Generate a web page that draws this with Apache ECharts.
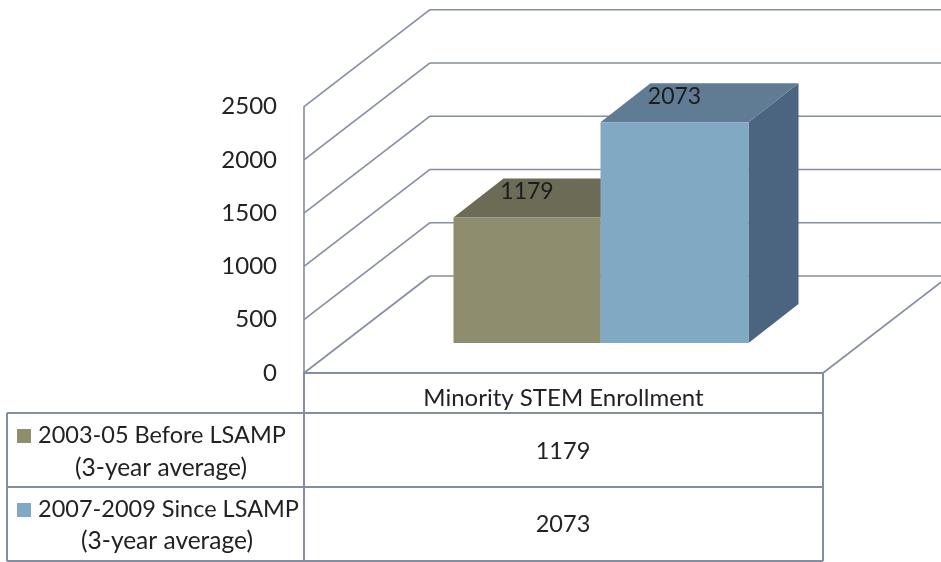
<!DOCTYPE html>
<html>
<head>
<meta charset="utf-8">
<style>
  html, body { margin: 0; padding: 0; background: #fff; }
  #chart { width: 941px; height: 562px; }
</style>
</head>
<body>
<div id="chart"></div>
<script src="https://cdn.jsdelivr.net/npm/echarts@6/dist/echarts.min.js"></script>
<script>
const categories = ['Minority STEM Enrollment']
const seriesNames = ['2003-05 Before LSAMP', '2007-2009 Since LSAMP']
const seriesNotes = ['(3-year average)', '(3-year average)']
const beforeValues = [1179]
const sinceValues = [2073]
const yTicks = [0, 500, 1000, 1500, 2000, 2500]

const FONT = 'Lato'
const LINE = '#858da1'
const TEXT = '#222'

// depth of the fake 3d box
const WALL_DX = 126
const WALL_DY = -97
const BAR_OFF_DY = -30
const BAR_DX = 50
const BAR_DY = -39

function poly(points, fill) {
  return { type: 'polygon', shape: { points }, style: { fill, stroke: null } }
}

function line(x1, y1, x2, y2, width) {
  return {
    type: 'line',
    shape: { x1, y1, x2, y2 },
    style: { stroke: LINE, lineWidth: width || 1.6 }
  }
}

// walls: one line around the box per y tick
function renderWall(params, api) {
  const p = api.coord([0, api.value(1)])
  const band = api.size([1, 0])[0]
  const left = p[0] - band / 2
  const backX = left + WALL_DX
  const backY = p[1] + WALL_DY
  const children = [
    line(left, p[1], backX, backY),
    line(backX, backY, 941, backY)
  ]
  if (api.value(1) === 0) {
    children.push(line(left + band, p[1], left + band + 118, p[1] + 118 * WALL_DY / WALL_DX))
  }
  return { type: 'group', children }
}

function barRenderer(startInBand, width, front, top, side) {
  return function(params, api) {
    const p = api.coord([api.value(0), api.value(1)])
    const base = api.coord([api.value(0), 0])
    const band = api.size([1, 0])[0]
    const x1 = p[0] - band / 2 + startInBand
    const x2 = x1 + width
    const y1 = p[1] + BAR_OFF_DY
    const y2 = base[1] + BAR_OFF_DY
    return {
      type: 'group',
      children: [
        poly([[x2, y1], [x2 + BAR_DX, y1 + BAR_DY], [x2 + BAR_DX, y2 + BAR_DY], [x2, y2]], side),
        poly([[x1, y1], [x2, y1], [x2 + BAR_DX, y1 + BAR_DY], [x1 + BAR_DX, y1 + BAR_DY]], top),
        poly([[x1, y1], [x2, y1], [x2, y2], [x1, y2]], front),
        {
          type: 'text',
          style: {
            text: String(api.value(1)),
            x: (x1 + x2) / 2,
            y: y1 - 26,
            align: 'center',
            verticalAlign: 'middle',
            fill: '#1c1c1c',
            font: '23px ' + FONT
          }
        }
      ]
    }
  }
}

function tableText(text, x, y, align, size) {
  return {
    type: 'text',
    style: {
      text, x, y,
      textAlign: align || 'center',
      textVerticalAlign: 'middle',
      fill: TEXT,
      font: (size || 23.5) + 'px ' + FONT
    }
  }
}

function tableLine(x1, y1, x2, y2) {
  return { type: 'line', shape: { x1, y1, x2, y2 }, style: { stroke: LINE, lineWidth: 2 } }
}

function swatch(x, y, fill) {
  return { type: 'rect', shape: { x, y, width: 14, height: 14 }, style: { fill } }
}

const COLOR_BEFORE = '#8e8d6d'
const COLOR_SINCE = '#82a9c4'

const chart = echarts.init(document.getElementById('chart'))
chart.setOption({
  animation: false,
  backgroundColor: '#fff',
  textStyle: { fontFamily: FONT },
  grid: { left: 304, right: 118, top: 106.7, height: 266.3 },
  xAxis: {
    type: 'category',
    data: categories,
    axisTick: { show: false },
    axisLine: { lineStyle: { color: LINE, width: 2 } },
    axisLabel: { color: TEXT, fontSize: 24, fontFamily: FONT, margin: 13 }
  },
  yAxis: {
    type: 'value',
    min: 0,
    max: 2500,
    interval: 500,
    axisLine: { show: true, lineStyle: { color: LINE, width: 1.6 } },
    axisTick: { show: false },
    splitLine: { show: false },
    axisLabel: {
      color: TEXT,
      fontSize: 24,
      fontFamily: FONT,
      margin: 27,
      padding: [3, 0, 0, 0],
      formatter: v => String(v)
    }
  },
  series: [
    {
      type: 'custom',
      name: 'walls',
      silent: true,
      clip: false,
      renderItem: renderWall,
      data: yTicks.map(v => [0, v]),
      z: 1
    },
    {
      type: 'custom',
      name: seriesNames[0],
      silent: true,
      clip: false,
      renderItem: barRenderer(149.5, 147, COLOR_BEFORE, '#6b6b56', '#6b6b56'),
      data: beforeValues.map((v, i) => [i, v]),
      z: 2
    },
    {
      type: 'custom',
      name: seriesNames[1],
      silent: true,
      clip: false,
      renderItem: barRenderer(296.5, 148, COLOR_SINCE, '#607b94', '#4b6581'),
      data: sinceValues.map((v, i) => [i, v]),
      z: 3
    }
  ],
  graphic: [
    tableLine(304, 373, 304, 561),
    tableLine(823, 373, 823, 561),
    tableLine(7, 413, 823, 413),
    tableLine(7, 487, 823, 487),
    tableLine(7, 561, 823, 561),
    tableLine(7, 413, 7, 561),
    swatch(17, 429, COLOR_BEFORE),
    swatch(17, 503, COLOR_SINCE),
    tableText(seriesNames[0], 38, 435, 'left'),
    tableText(seriesNotes[0], 161, 468, 'center', 24.5),
    tableText(seriesNames[1], 38, 509, 'left'),
    tableText(seriesNotes[1], 167, 541, 'center', 24.5),
    tableText(String(beforeValues[0]), 563, 451),
    tableText(String(sinceValues[0]), 563, 524)
  ]
})
</script>
</body>
</html>
